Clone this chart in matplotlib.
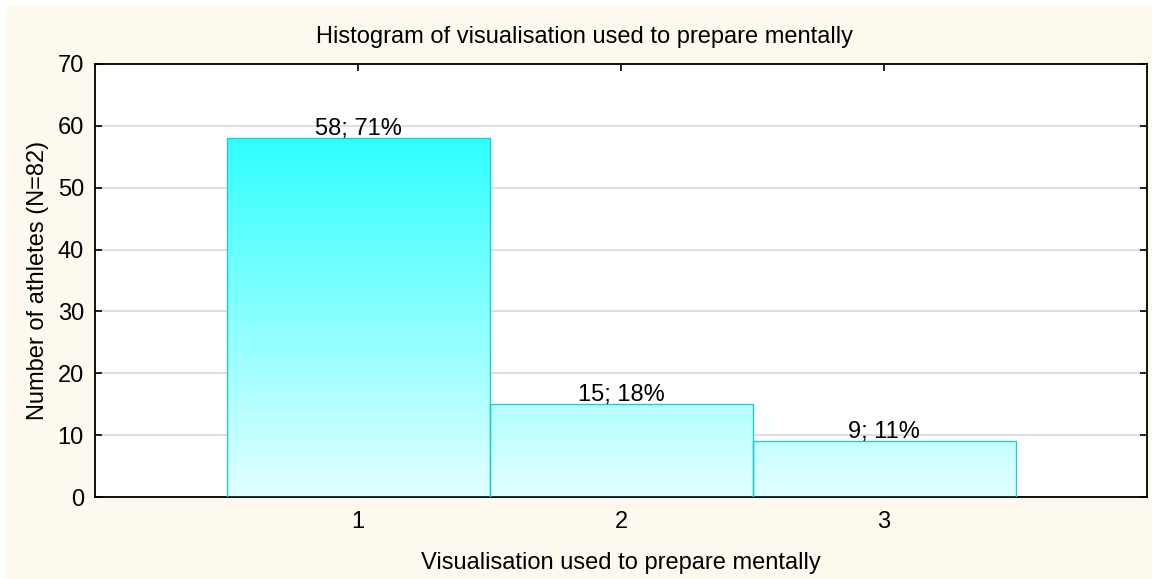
import numpy as np
import matplotlib
matplotlib.use("Agg")
import matplotlib.pyplot as plt
from matplotlib.patches import Rectangle

categories = [1, 2, 3]
counts = [58, 15, 9]
labels = ["58; 71%", "15; 18%", "9; 11%"]
yticks = [0, 10, 20, 30, 40, 50, 60, 70]

plt.rcParams['font.family'] = ['Liberation Sans', 'DejaVu Sans']

W, H = 1152, 579
fig = plt.figure(figsize=(W/100, H/100), dpi=100)
fig.patch.set_facecolor('white')
fig.patches.append(Rectangle((7/W, 0), 1 - 7/W, 1 - 7/H, transform=fig.transFigure,
                             facecolor='#fef9ee', edgecolor='none', zorder=-10))

ax = fig.add_axes([95/W, 1 - 497/H, (1147-95)/W, (497-64)/H])
ax.set_facecolor('white')
ax.set_xlim(0, 4)
ax.set_ylim(0, 70)

# gradient
grad = np.linspace(0, 1, 256).reshape(-1, 1)
top = np.array([0x30, 0xFF, 0xFF]) / 255
bot = np.array([0xE2, 0xFF, 0xFF]) / 255
img = bot + (top - bot) * grad[..., None]
ymax = max(counts)
for c, v in zip(categories, counts):
    rect = Rectangle((c - 0.5, 0), 1, v, facecolor='none', edgecolor='#22cccc', lw=1.0, zorder=3)
    ax.add_patch(rect)
    im = ax.imshow(img, extent=(c - 0.5, c + 0.5, 0, ymax), origin='lower', aspect='auto', zorder=2)
    im.set_clip_path(rect)
for c, v, l in zip(categories, counts, labels):
    ax.text(c, v - 0.3, l, ha='center', va='bottom', fontsize=17, zorder=5)

ax.set_xlim(0, 4)
ax.set_ylim(0, 70)
ax.set_xticks(categories)
ax.set_yticks(yticks)
ax.yaxis.grid(True, color='#d8d8d8', lw=1.2, zorder=0)
ax.set_axisbelow(True)
ax.tick_params(direction='in', top=True, right=True, length=5, width=1.2, labelsize=17, pad=8)
ax.tick_params(axis='x', pad=10)
for s in ax.spines.values():
    s.set_linewidth(1.3)
fig.text(584/W, 1 - 37/H, "Histogram of visualisation used to prepare mentally",
         fontsize=17, ha='center', va='center')
ax.set_xlabel("Visualisation used to prepare mentally", fontsize=17, labelpad=14)
ax.set_ylabel("Number of athletes (N=82)", fontsize=17, labelpad=6)

fig.savefig("out.png", dpi=100, facecolor=fig.get_facecolor())
